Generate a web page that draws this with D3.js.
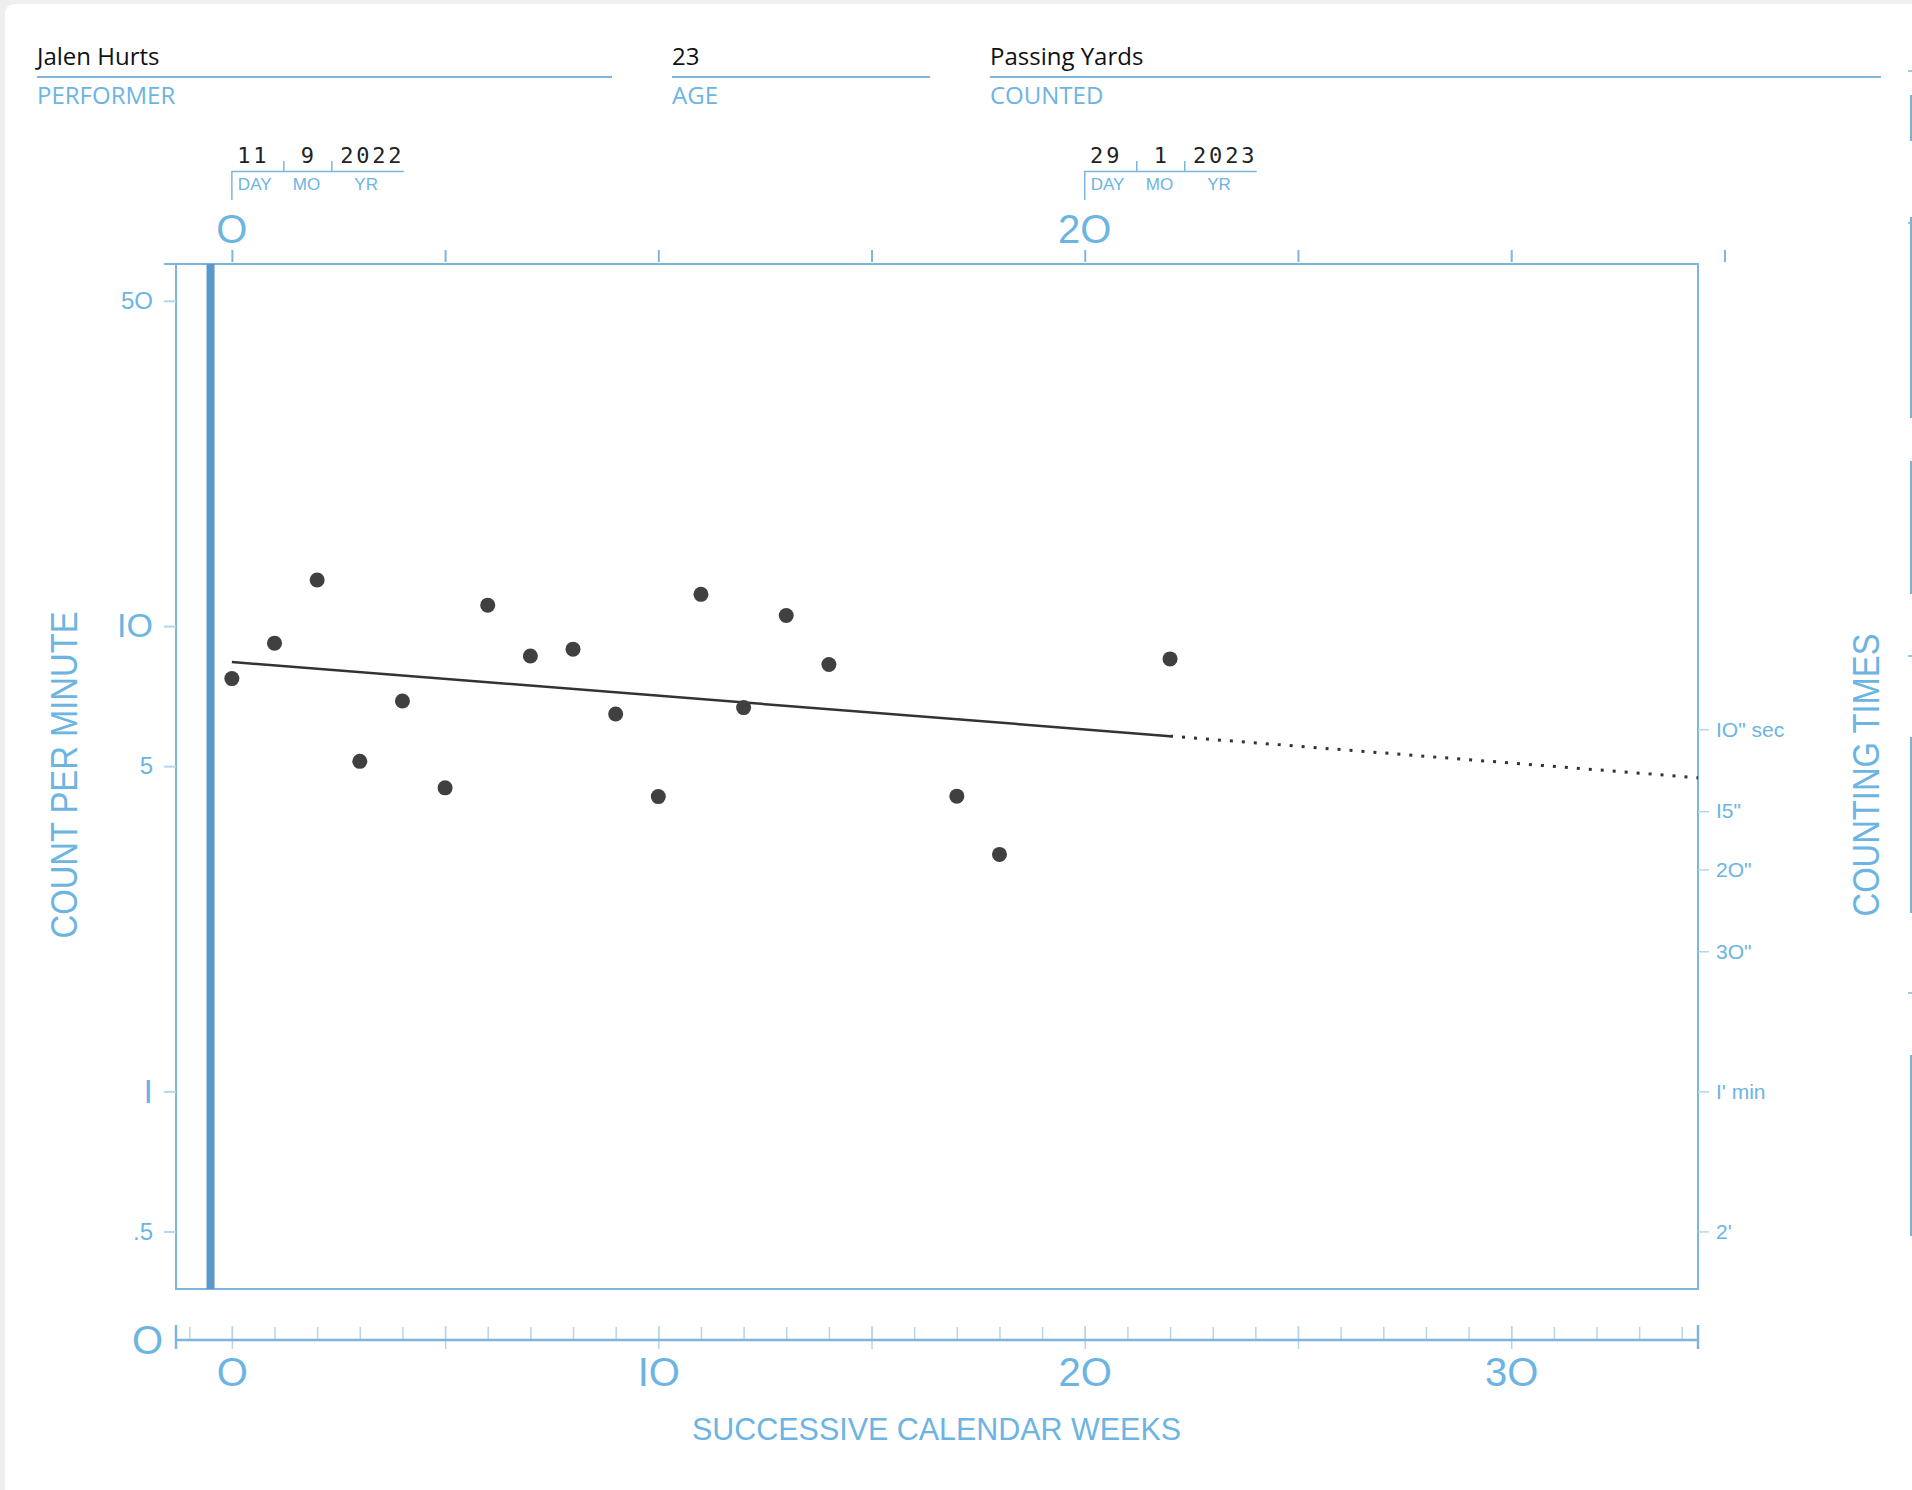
<!DOCTYPE html>
<html>
<head>
<meta charset="utf-8">
<script src="https://cdn.jsdelivr.net/npm/d3@7"></script>
<style>
  body { margin: 0; background: #eeeeee; }
  svg { display: block; }
  .blue { fill: #6cb4e2; }
</style>
</head>
<body>
<div id="chart"></div>
<script>
// header fields
const fieldValues = ["Jalen Hurts", "23", "Passing Yards"];
const fieldLabels = ["PERFORMER", "AGE", "COUNTED"];

// dated weeks on the top axis
const dateWeeks = [0, 20];
const dateDays = ["11", "29"];
const dateMonths = ["9", "1"];
const dateYears = ["2022", "2023"];

// weekly counts per minute
const weeks = [0, 1, 2, 3, 4, 5, 6, 7, 8, 9, 10, 11, 12, 13, 14, 17, 18, 22];
const rates = [7.71, 9.19, 12.56, 5.12, 6.9, 4.49, 11.09, 8.62, 8.92, 6.47, 4.3, 11.7, 6.68, 10.54, 8.27, 4.31, 3.23, 8.5];

// celeration line (solid) and its projection (dotted)
const trendWeeks = [0, 22];
const trendRates = [8.37, 5.8];
const projWeeks = [22, 34.38];
const projRates = [5.8, 4.72];

const phaseWeek = -0.5;

// ticks
const topTicks = [0, 5, 10, 15, 20, 25, 30, 35];
const topTickLabels = ["O", "2O"];
const bottomMajor = [0, 5, 10, 15, 20, 25, 30];
const bottomLabelWeeks = [0, 10, 20, 30];
const bottomLabels = ["O", "IO", "2O", "3O"];
const leftTicks = [50, 10, 5, 1, 0.5];
const leftLabels = ["5O", "IO", "5", "I", ".5"];
const rightTicks = [6, 4, 3, 2, 1, 0.5];
const rightLabels = ["IO\" sec", "I5\"", "2O\"", "3O\"", "I' min", "2'"];

const W = 1912, H = 1490;
const lineBlue = "#7db5dc", lightBlue = "#b3d6ee", textBlue = "#6cb4e2";
const numFont = "'Liberation Sans', Arial, sans-serif";
const narrowFont = "'Liberation Sans Narrow', 'Liberation Sans', sans-serif";

const svg = d3.select("#chart").append("svg").attr("width", W).attr("height", H);

// card
svg.append("rect").attr("x", 5).attr("y", 4).attr("width", W + 20).attr("height", H + 20)
  .attr("rx", 9).attr("fill", "#fff");

// header
const fieldX = [[37, 612], [672, 930], [990, 1881]];
fieldValues.forEach((v, i) => {
  svg.append("text").attr("x", fieldX[i][0]).attr("y", 65)
    .style("font", "24px 'Open Sans', sans-serif").attr("fill", "#111").text(v);
  svg.append("line").attr("x1", fieldX[i][0]).attr("x2", fieldX[i][1])
    .attr("y1", 77).attr("y2", 77).attr("stroke", lineBlue).attr("stroke-width", 2);
  svg.append("text").attr("x", fieldX[i][0]).attr("y", 104)
    .style("font", "24px 'Open Sans', sans-serif").attr("fill", textBlue).text(fieldLabels[i]);
});

// scales
const x = d3.scaleLinear().domain([-1.31, 34.38]).range([176, 1698]);
const y = d3.scaleLog().domain([0.376, 60]).range([1289, 264]);

// date boxes
dateWeeks.forEach((w, i) => {
  const g = svg.append("g").attr("transform", `translate(${x(w)},0)`);
  g.append("path").attr("d", "M0,200V171.5H172M52,171.5V161M100,171.5V161")
    .attr("fill", "none").attr("stroke", lineBlue).attr("stroke-width", 1.5);
  const mono = "22px 'DejaVu Sans Mono', monospace";
  [[dateDays[i], 20], [dateMonths[i], 75.5], [dateYears[i], 139]].forEach(([t, cx]) => {
    g.append("text").attr("x", cx + 1.4).attr("y", 163).attr("text-anchor", "middle")
      .style("font", mono).style("letter-spacing", "2.8px").attr("fill", "#222").text(t);
  });
  [["DAY", 6], ["MO", 61], ["YR", 122.5]].forEach(([t, lx]) => {
    g.append("text").attr("x", lx).attr("y", 190)
      .style("font", `17px ${narrowFont}`).attr("fill", textBlue).text(t);
  });
});

// top axis
const topAxis = svg.append("g").attr("transform", "translate(0,262)")
  .call(d3.axisTop(x).tickValues(topTicks).tickSize(12).tickFormat(""));
topAxis.select(".domain").remove();
topAxis.selectAll(".tick line").attr("stroke", lineBlue).attr("stroke-width", 2);
dateWeeks.forEach((w, i) => {
  svg.append("text").attr("x", x(w)).attr("y", 243).attr("text-anchor", "middle")
    .style("font", `40px ${numFont}`).attr("fill", textBlue).text(topTickLabels[i]);
});

// plot box
svg.append("rect").attr("x", x.range()[0]).attr("y", y.range()[1])
  .attr("width", x.range()[1] - x.range()[0]).attr("height", y.range()[0] - y.range()[1])
  .attr("fill", "none").attr("stroke", lineBlue).attr("stroke-width", 2);
svg.append("line").attr("x1", 164).attr("x2", x.range()[0]).attr("y1", y.range()[1]).attr("y2", y.range()[1])
  .attr("stroke", lineBlue).attr("stroke-width", 2);

// left axis
const leftAxis = svg.append("g").attr("transform", `translate(${x.range()[0]},0)`)
  .call(d3.axisLeft(y).tickValues(leftTicks).tickSize(12).tickPadding(11)
    .tickFormat((d, i) => leftLabels[i]));
leftAxis.select(".domain").remove();
leftAxis.selectAll(".tick line").attr("stroke", lightBlue).attr("stroke-width", 2);
leftAxis.selectAll(".tick text").attr("fill", textBlue).style("font-family", numFont)
  .style("font-size", (d, i) => (leftLabels[i] === "IO" || leftLabels[i] === "I") ? "34px" : "24px");

// right axis
const rightAxis = svg.append("g").attr("transform", `translate(${x.range()[1]},0)`)
  .call(d3.axisRight(y).tickValues(rightTicks).tickSize(11).tickPadding(7)
    .tickFormat((d, i) => rightLabels[i]));
rightAxis.select(".domain").remove();
rightAxis.selectAll(".tick line").attr("stroke", lightBlue).attr("stroke-width", 1.5);
rightAxis.selectAll(".tick text").attr("fill", textBlue)
  .style("font-family", numFont).style("font-size", "21px");

// bottom axis
const bottomY = 1340;
const minorWeeks = d3.range(-1, 35);
const minorAxis = svg.append("g").attr("transform", `translate(0,${bottomY})`)
  .call(d3.axisTop(x).tickValues(minorWeeks).tickSize(13).tickFormat(""));
minorAxis.select(".domain").remove();
minorAxis.selectAll(".tick line").attr("stroke", lightBlue).attr("stroke-width", 1.5);
const majorAxis = svg.append("g").attr("transform", `translate(0,${bottomY - 14})`)
  .call(d3.axisBottom(x).tickValues(bottomMajor).tickSize(23).tickFormat(""));
majorAxis.select(".domain").remove();
majorAxis.selectAll(".tick line").attr("stroke", lightBlue).attr("stroke-width", 1.5);
svg.append("line").attr("x1", x.range()[0]).attr("x2", x.range()[1])
  .attr("y1", bottomY).attr("y2", bottomY).attr("stroke", lineBlue).attr("stroke-width", 2.5);
x.range().forEach(px => {
  svg.append("line").attr("x1", px).attr("x2", px).attr("y1", bottomY - 15).attr("y2", bottomY + 9)
    .attr("stroke", lineBlue).attr("stroke-width", 2.5);
});
const labelAxis = svg.append("g").attr("transform", `translate(0,${bottomY})`)
  .call(d3.axisBottom(x).tickValues(bottomLabelWeeks).tickSize(0).tickPadding(18)
    .tickFormat((d, i) => bottomLabels[i]));
labelAxis.select(".domain").remove();
labelAxis.selectAll(".tick text").attr("fill", textBlue)
  .style("font-family", numFont).style("font-size", "40px");
svg.append("text").attr("x", 147.5).attr("y", bottomY + 14).attr("text-anchor", "middle")
  .style("font", `40px ${numFont}`).attr("fill", textBlue).text("O");

// axis titles
svg.append("text").attr("x", 936.5).attr("y", 1440).attr("text-anchor", "middle")
  .attr("textLength", 489).attr("lengthAdjust", "spacingAndGlyphs")
  .style("font", `32px ${narrowFont}`).attr("fill", textBlue).text("SUCCESSIVE CALENDAR WEEKS");
svg.append("text").attr("transform", "translate(77,775) rotate(-90)").attr("text-anchor", "middle")
  .attr("textLength", 327).attr("lengthAdjust", "spacingAndGlyphs")
  .style("font", `37px ${narrowFont}`).attr("fill", textBlue).text("COUNT PER MINUTE");
svg.append("text").attr("transform", "translate(1879,775) rotate(-90)").attr("text-anchor", "middle")
  .attr("textLength", 283).attr("lengthAdjust", "spacingAndGlyphs")
  .style("font", `37px ${narrowFont}`).attr("fill", textBlue).text("COUNTING TIMES");

// phase line
svg.append("line").attr("x1", x(phaseWeek)).attr("x2", x(phaseWeek))
  .attr("y1", y.range()[1]).attr("y2", y.range()[0])
  .attr("stroke", "#5a97cc").attr("stroke-width", 8);

// celeration line
const line = d3.line().x(d => x(d[0])).y(d => y(d[1]));
svg.append("path").datum(d3.zip(trendWeeks, trendRates)).attr("d", line)
  .attr("fill", "none").attr("stroke", "#333").attr("stroke-width", 2.5);
svg.append("path").datum(d3.zip(projWeeks, projRates)).attr("d", line)
  .attr("fill", "none").attr("stroke", "#333").attr("stroke-width", 3)
  .attr("stroke-dasharray", "3,9");

// data points
svg.selectAll("circle.pt").data(d3.zip(weeks, rates)).enter().append("circle")
  .attr("class", "pt").attr("cx", d => x(d[0])).attr("cy", d => y(d[1]))
  .attr("r", 7.5).attr("fill", "#404040");

// partial marks of the neighbouring card at the right edge
const edgeSegments = [[95, 141], [217, 418], [461, 594], [737, 913], [1055, 1236]];
const edgeTicks = [71, 223, 656, 993];
edgeSegments.forEach(([a, b]) => {
  svg.append("line").attr("x1", 1911).attr("x2", 1911).attr("y1", a).attr("y2", b)
    .attr("stroke", "#7fb0cf").attr("stroke-width", 2);
});
edgeTicks.forEach(t => {
  svg.append("line").attr("x1", 1908).attr("x2", 1912).attr("y1", t).attr("y2", t)
    .attr("stroke", "#7fb0cf").attr("stroke-width", 1.5);
});
</script>
</body>
</html>
